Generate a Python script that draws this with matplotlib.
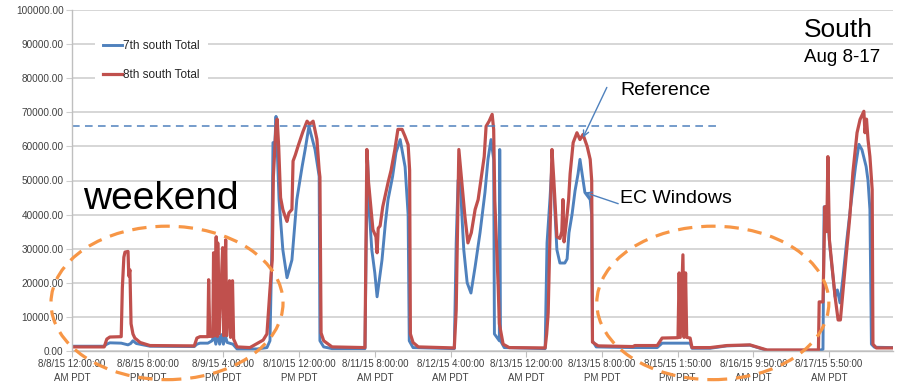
import matplotlib
matplotlib.use("Agg")
import matplotlib.pyplot as plt
from matplotlib.patches import Ellipse

plt.rcParams['font.family'] = ['Liberation Sans', 'DejaVu Sans']

# hours along the (category) time axis, one tick every 20 h
tick_hours = [0, 20, 40, 60, 80, 100, 120, 140, 160, 180, 200]
tick_labels = [
    "8/8/15 12:00:00\nAM PDT", "8/8/15 8:00:00\nPM PDT", "8/9/15 4:00:00\nPM PDT",
    "8/10/15 12:00:00\nPM PDT", "8/11/15 8:00:00\nAM PDT", "8/12/15 4:00:00\nAM PDT",
    "8/13/15 12:00:00\nAM PDT", "8/13/15 8:00:00\nPM PDT", "8/15/15 1:50:00\nPM PDT",
    "8/16/15 9:50:00\nAM PDT", "8/17/15 5:50:00\nAM PDT",
]

# 8th south Total (red)
t8 = [0, 8.5, 9.2, 10.0, 13.0, 13.3, 13.7, 14.0, 14.8, 15.0, 15.3, 15.6, 16.1, 16.6, 18.0, 20.6,
      32.3, 33.0, 33.8, 35.9, 36.1, 36.4, 37.2, 37.4, 37.7, 38.1, 38.4, 38.5, 38.9, 39.8, 40.1,
      40.6, 40.9, 41.6, 41.9, 42.4, 42.7, 43.6, 47.0, 49.7, 50.5, 51.5, 52.3, 52.9, 53.2, 53.9,
      54.2, 54.6, 55.1, 55.7, 56.3, 56.8, 57.3, 58.1, 58.4, 59.0, 59.7, 61.0, 62.1, 62.8, 63.7,
      64.7, 65.3, 65.5, 65.8, 66.5, 68.7, 77.4,
      77.9, 78.3, 79.5, 80.3, 80.6, 80.9, 81.4, 82.1, 83.5, 84.3, 85.3, 86.1, 87.2, 88.0, 88.8,
      89.2, 89.4, 90.1, 91.5, 101.0,
      101.5, 102.2, 103.0, 103.8, 104.6, 105.5, 106.5, 107.3, 108.3, 108.9, 109.4, 110.2, 111.0,
      111.4, 111.7, 112.6, 112.9, 113.9, 115.5, 125.0,
      125.4, 125.8, 126.8, 127.3, 128.1, 128.9, 129.4, 129.7, 130.0, 130.5, 131.2, 131.6, 132.4,
      133.4, 134.2, 135.0, 136.1, 136.9, 137.3, 137.5, 139.0, 148.2, 148.7, 154.6, 155.9, 160.1,
      160.4, 160.7, 161.4, 161.7, 162.1, 162.4, 163.3, 163.8, 168.6, 173.0, 179.1, 183.6, 197.2,
      197.4, 198.4, 198.9, 199.4, 199.7, 200.1, 201.6, 202.4, 203.0, 203.7, 204.5, 205.5, 206.3,
      207.4, 208.2, 209.2, 209.5, 209.9, 210.3, 210.8, 211.4, 211.6, 212.5, 216.9]
v8 = [1200, 1200, 3500, 4100, 4200, 18500, 27500, 29000, 29200, 22000, 23800, 8000, 5000, 3800, 2500, 1600,
      1500, 3800, 4200, 4200, 20900, 4300, 4300, 28800, 4500, 33500, 4300, 31700, 5000, 30300, 4500,
      32600, 4500, 20600, 4000, 20600, 3500, 1200, 1000, 2700, 3200, 5000, 18000, 26700, 51200, 66000,
      68000, 60000, 45000, 41500, 39500, 38000, 40500, 41500, 55700, 57500, 60000, 64300, 67400, 66500, 67400,
      62100, 53000, 51000, 5300, 3000, 1200, 1000,
      59100, 50000, 35600, 33500, 28800, 36000, 36700, 42300, 49400, 53000, 59100, 65000, 65000, 62900, 60500,
      53000, 5000, 2500, 1200, 900,
      12000, 59100, 49400, 39500, 31700, 34700, 41500, 44400, 52300, 57000, 65900, 67400, 69400,
      65000, 44000, 18800, 8000, 2000, 1000, 900,
      5000, 11200, 59100, 50000, 33500, 33000, 35000, 44400, 32000, 36700, 44400, 52000, 61100,
      64000, 62000, 63500, 60000, 56200, 50000, 2600, 1500, 1300, 1600, 1600, 3800, 3900,
      22900, 4000, 28200, 4000, 22900, 4000, 3800, 1000, 1000, 1600, 1800, 300, 300,
      14400, 14400, 42300, 35000, 57000, 32600, 15900, 9100, 9100, 17900, 27600, 39500, 52300,
      64000, 67900, 70300, 64000, 68000, 62000, 57000, 47300, 2000, 900, 900]

# 7th south Total (blue)
t7 = [0, 8.5, 9.2, 10.0, 13.0, 14.8, 15.5, 16.1, 17.0, 20.6, 32.3, 33.0, 33.8, 35.9, 37.0, 37.5,
      38.0, 38.5, 39.0, 39.5, 40.0, 40.5, 41.0, 42.5, 43.6, 49.0, 51.5, 52.3, 52.8, 53.1, 53.6,
      53.9, 54.7, 55.7, 56.8, 58.1, 59.4, 60.8, 61.6, 62.6, 64.2, 65.3, 65.5, 66.5, 68.7, 77.4,
      77.7, 78.1, 78.6, 79.2, 80.0, 80.6, 81.9, 82.8, 83.5, 84.7, 85.6, 86.7, 88.0, 88.5, 88.8,
      89.1, 90.1, 101.0, 101.5, 102.0, 102.5, 103.0, 103.5, 104.4, 105.1, 105.4, 106.5, 107.8,
      109.1, 109.9, 110.7, 111.4, 111.6, 112.9, 113.0, 113.2, 114.2, 125.0, 125.5, 126.3, 126.8,
      127.4, 128.1, 128.9, 130.2, 130.8, 131.3, 132.1, 132.9, 133.7, 134.2, 135.5, 136.9, 137.3,
      137.5, 138.5, 148.2, 154.6, 155.9, 163.3, 163.8, 168.6, 173.0, 179.1, 183.6, 197.4, 198.4,
      198.7, 199.7, 200.3, 201.6, 202.2, 202.9, 203.7, 204.7, 205.7, 207.0, 207.9, 208.7, 209.8,
      210.3, 210.8, 211.2, 212.0, 216.9]
v7 = [1400, 1400, 2000, 2400, 2300, 1800, 2200, 3000, 2200, 1400, 1300, 2000, 2300, 2300, 3000, 4500,
      2000, 5000, 2000, 4800, 2000, 4500, 2500, 2000, 600, 600, 1000, 3000, 30000, 61100, 61000,
      68800, 44400, 29700, 21500, 26700, 44400, 54100, 59100, 65900, 59100, 51200, 3000, 1200, 700, 700,
      30000, 56000, 40000, 29700, 22900, 15900, 26700, 37600, 44400, 51200, 58200, 62000, 54000, 45300, 40000,
      3000, 1000, 700, 31700, 50000, 52000, 40000, 29700, 20000, 17900, 17000, 24700, 34700,
      46500, 56200, 62000, 56200, 5000, 3000, 59100, 3000, 1000, 700, 31700, 45000, 55000,
      45000, 29700, 25800, 25800, 27000, 34700, 40000, 47000, 52000, 56200, 46500, 44400, 40000,
      3000, 1200, 1000, 1000, 2300, 2300, 800, 800, 1500, 1700, 200, 200, 500,
      42300, 38000, 29700, 15900, 17900, 14100, 21800, 32600, 42300, 54100, 60600, 59000, 54100,
      50000, 41500, 2000, 1100, 1000]

reference_level = 66000
reference_end = 171.2

fig = plt.figure(figsize=(8.97, 3.85), dpi=100)
ax = fig.add_axes([72 / 897, 1 - 351 / 385, 821 / 897, 341 / 385])

ax.set_xlim(0, 216.9)
ax.set_ylim(0, 100000)
ax.set_yticks(range(0, 100001, 10000))
ax.set_yticklabels([f"{v:.2f}" for v in range(0, 100001, 10000)])
ax.set_xticks(tick_hours)
ax.set_xticklabels(tick_labels, linespacing=1.4)
ax.grid(axis='y', color='#CFCFCF', lw=1.2)
ax.set_axisbelow(True)
for s in ['top', 'right']:
    ax.spines[s].set_visible(False)
for s in ['left', 'bottom']:
    ax.spines[s].set_color('#BFBFBF')
    ax.spines[s].set_linewidth(1.0)
ax.tick_params(axis='y', length=4, color='#CFCFCF', labelsize=7.2, labelcolor='#404040', pad=2)
ax.tick_params(axis='x', length=4, color='#BFBFBF', labelsize=7.0, labelcolor='#404040', pad=2)

ax.plot(t7, v7, color='#4F81BD', lw=2.1, label='7th south Total')
ax.plot(t8, v8, color='#C0504D', lw=2.3, label='8th south Total')
ax.plot([0, reference_end], [reference_level, reference_level], color='#4F81BD',
        lw=1.1, ls=(0, (5, 3.5)))

leg = ax.legend(loc='upper left', bbox_to_anchor=(0.028, 0.937), fontsize=8.5,
                handlelength=1.6, handletextpad=0.05, labelspacing=1.45,
                frameon=True, facecolor='white', edgecolor='none', framealpha=1,
                borderpad=0.7, borderaxespad=0)
for t in leg.get_texts():
    t.set_color('#262626')

# annotations
ax.text(2.9, 41500, "weekend", fontsize=28, color='black', va='baseline')
ax.text(193.4, 92000, "South", fontsize=19, va='baseline')
ax.text(193.4, 84700, "Aug 8-17", fontsize=13.5, va='baseline')
ax.text(144.8, 75000, "Reference", fontsize=14, va='baseline')
ax.text(144.8, 43500, "EC Windows", fontsize=14, va='baseline')
arrow = dict(arrowstyle='->', color='#4F81BD', lw=1.0, shrinkA=0, shrinkB=0)
ax.annotate("", xy=(135.0, 62600), xytext=(141.3, 77300), arrowprops=arrow)
ax.annotate("", xy=(135.5, 46500), xytext=(144.3, 43200), arrowprops=arrow)

for cx in [25.1, 169.3]:
    e = Ellipse((cx, 14100), 61.3, 45000, fill=False, edgecolor='#F79646', lw=2.3,
                ls=(0, (4.5, 2.8)), clip_on=False, zorder=5)
    ax.add_patch(e)

fig.savefig('out.png', dpi=100, facecolor='white')
